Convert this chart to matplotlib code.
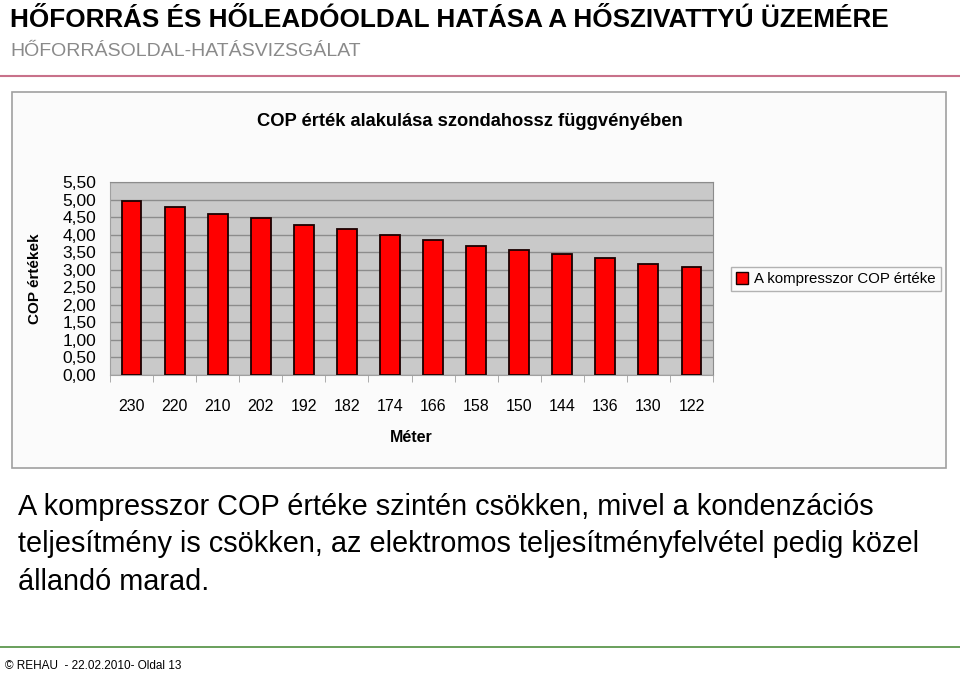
import matplotlib
matplotlib.use('Agg')
import matplotlib.pyplot as plt
from matplotlib.patches import Rectangle
from matplotlib.ticker import FixedLocator, FuncFormatter
import numpy as np

plt.rcParams['font.family'] = ['Liberation Sans', 'DejaVu Sans']

# data
meters = ['230', '220', '210', '202', '192', '182', '174', '166', '158', '150', '144', '136', '130', '122']
cop = [4.97, 4.80, 4.60, 4.47, 4.27, 4.15, 3.98, 3.85, 3.69, 3.56, 3.45, 3.32, 3.15, 3.07]

W, H = 960, 674
fig = plt.figure(figsize=(9.6, 6.74), dpi=100)
fig.patch.set_facecolor('white')

def fx(px):
    return px / W

def fy(py):
    return 1 - py / H

# slide header
fig.text(fx(10), fy(20), 'HŐFORRÁS ÉS HŐLEADÓOLDAL HATÁSA A HŐSZIVATTYÚ ÜZEMÉRE',
         fontsize=18.8, fontweight='bold', va='center', ha='left')
fig.text(fx(10), fy(52), 'HŐFORRÁSOLDAL-HATÁSVIZSGÁLAT',
         fontsize=14, color='#8a8a8a', va='center', ha='left')
fig.add_artist(plt.Line2D([0, 1], [fy(76), fy(76)], color='#c8718a', lw=1.5))

# chart frame
fig.add_artist(Rectangle((fx(12), fy(468)), fx(946 - 12), (468 - 92) / H,
                         facecolor='#fbfbfb', edgecolor='#a0a0a0', lw=1.2,
                         transform=fig.transFigure, zorder=0))
fig.text(fx(470), fy(121), 'COP érték alakulása szondahossz függvényében',
         fontsize=13.2, fontweight='bold', va='center', ha='center')

ax = fig.add_axes([fx(110), fy(375), (713 - 110) / W, (375 - 182) / H])
ax.set_facecolor('#c9c9c9')
x = np.arange(len(meters))
ax.bar(x, cop, width=0.46, color='#ff0000', edgecolor='#1a0000', lw=1.3, zorder=3,
       label='A kompresszor COP értéke')
ax.set_xlim(-0.5, len(meters) - 0.5)
ax.set_ylim(0, 5.5)
ax.set_yticks(np.arange(0, 5.51, 0.5))
ax.yaxis.set_major_formatter(FuncFormatter(lambda v, p: ('%.2f' % v).replace('.', ',')))
ax.grid(axis='y', color='#8c8c8c', lw=1.0, zorder=1)
ax.set_xticks(x)
ax.set_xticklabels(meters)
ax.xaxis.set_minor_locator(FixedLocator(np.arange(-0.5, len(meters), 1.0)))
ax.tick_params(axis='x', which='major', length=0, pad=17, labelsize=11.5)
ax.tick_params(axis='x', which='minor', length=5, color='#a0a0a0', direction='out')
ax.tick_params(axis='y', length=0, pad=10, labelsize=12.5)
for s in ['top', 'right']:
    ax.spines[s].set_color('#8c8c8c')
ax.spines['left'].set_color('#a0a0a0')
ax.spines['bottom'].set_color('#a0a0a0')
ax.set_xlabel('Méter', fontsize=11.5, fontweight='bold', labelpad=12)
ax.set_ylabel('COP értékek', fontsize=11, fontweight='bold')
ax.yaxis.set_label_coords(fx(42 - 110) / ((713 - 110) / W), 0.5)

leg = fig.legend(handles=[plt.Line2D([], [], marker='s', ls='', markersize=8,
                                     markerfacecolor='#ff0000', markeredgecolor='#1a0000')],
                 labels=['A kompresszor COP értéke'],
                 loc='center left', bbox_to_anchor=(fx(731), fy(279)),
                 fontsize=10.8, frameon=True, fancybox=False, handlelength=0.8,
                 handletextpad=0.4, borderpad=0.35, borderaxespad=0)
leg.get_frame().set_edgecolor('#a0a0a0')
leg.get_frame().set_facecolor('#fbfbfb')
leg.get_frame().set_linewidth(1.0)

# body text
body = ['A kompresszor COP értéke szintén csökken, mivel a kondenzációs',
        'teljesítmény is csökken, az elektromos teljesítményfelvétel pedig közel',
        'állandó marad.']
for i, line in enumerate(body):
    fig.text(fx(18), fy(507 + 37.5 * i), line, fontsize=20.8,
             va='center', ha='left')

# footer
fig.add_artist(plt.Line2D([0, 1], [fy(647), fy(647)], color='#4f8f3f', lw=1.2))
fig.text(fx(5), fy(666), '© REHAU  - 22.02.2010- Oldal 13', fontsize=8.5,
         va='center', ha='left')

fig.savefig('out.png', dpi=100)
